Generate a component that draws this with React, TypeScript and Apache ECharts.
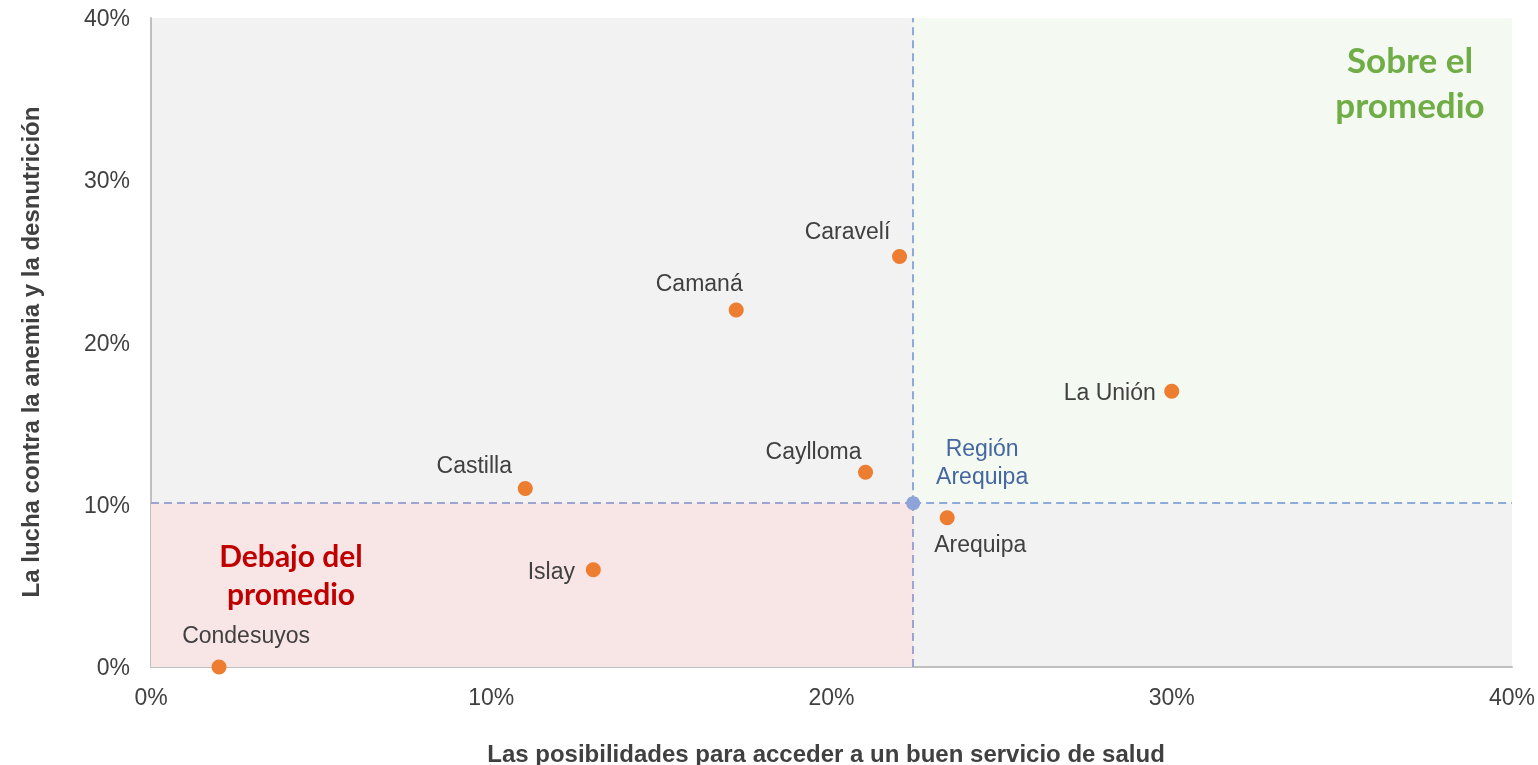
import React, { useEffect, useRef } from "react";
import * as echarts from "echarts";

const provinceNames = ["Condesuyos", "Castilla", "Islay", "Camaná", "Caravelí", "Caylloma", "La Unión", "Arequipa"];
const saludValues = [2, 11, 13, 17.2, 22, 21, 30, 23.4];
const anemiaValues = [0, 11, 6, 22, 25.3, 12, 17, 9.2];
const regionName = "Región\nArequipa";
const regionValue = [22.4, 10.1];
const axisTicks = [0, 10, 20, 30, 40];
const xTitle = "Las posibilidades para acceder a un buen servicio de salud";
const yTitle = "La lucha contra la anemia y la desnutrición";

const labelOffsets: Record<string, [number, number]> = {
  "Condesuyos": [27, -32],
  "Castilla": [-51, -24],
  "Islay": [-42, 1],
  "Camaná": [-37, -27],
  "Caravelí": [-52, -26],
  "Caylloma": [-52, -21],
  "La Unión": [-62, 1],
  "Arequipa": [33, 26],
};

const FONT = "'Liberation Sans', Arial, sans-serif";

export default function App() {
  const ref = useRef<HTMLDivElement>(null);
  useEffect(() => {
    document.body.style.margin = "0";
    document.body.style.overflow = "hidden";
    document.documentElement.style.overflow = "hidden";
    const chart = echarts.init(ref.current!, null, { renderer: "svg" });
    const [ax, ay] = regionValue;
    const axMin = axisTicks[0];
    const axMax = axisTicks[axisTicks.length - 1];
    const blueDash = { color: "#8eaadb", type: [8, 5], width: 2 };
    const purpleDash = { color: "#9ea3d1", type: [8, 5], width: 2 };
    const axisCommon = {
      type: "value",
      min: axMin,
      max: axMax,
      interval: axisTicks[1] - axisTicks[0],
      splitLine: { show: false },
      axisTick: { show: false },
      axisLine: { show: true, lineStyle: { color: "#bfbfbf", width: 2 } },
      axisLabel: {
        formatter: "{value}%",
        color: "#404040",
        fontSize: 23,
        fontFamily: FONT,
      },
    };
    chart.setOption({
      animation: false,
      grid: {
        left: 151,
        right: 25,
        top: 18,
        bottom: 98,
        show: true,
        backgroundColor: "#f2f2f2",
        borderWidth: 0,
      },
      xAxis: {
        ...axisCommon,
        axisLabel: { ...axisCommon.axisLabel, margin: 18 },
      },
      yAxis: {
        ...axisCommon,
        axisLabel: { ...axisCommon.axisLabel, margin: 21 },
      },
      graphic: [
        {
          type: "text",
          x: 826,
          y: 753,
          style: {
            text: xTitle,
            align: "center",
            verticalAlign: "middle",
            fill: "#404040",
            font: `bold 24px ${FONT}`,
          },
          silent: true,
        },
        {
          type: "text",
          x: 30,
          y: 352,
          rotation: Math.PI / 2,
          style: {
            text: yTitle,
            align: "center",
            verticalAlign: "middle",
            fill: "#404040",
            font: `bold 24px ${FONT}`,
          },
          silent: true,
        },
        {
          type: "text",
          x: 1410,
          y: 81,
          style: {
            text: "Sobre el\npromedio",
            align: "center",
            verticalAlign: "middle",
            fill: "#70ad47",
            font: "bold 35px Lato, 'Open Sans', sans-serif",
            lineHeight: 45,
          },
          silent: true,
          z: 10,
        },
        {
          type: "text",
          x: 291,
          y: 574,
          style: {
            text: "Debajo del\npromedio",
            align: "center",
            verticalAlign: "middle",
            fill: "#c00000",
            font: "bold 30px Lato, 'Open Sans', sans-serif",
            lineHeight: 38,
          },
          silent: true,
          z: 10,
        },
      ],
      series: [
        {
          type: "scatter",
          symbolSize: 15,
          itemStyle: { color: "#ed7d31", opacity: 1 },
          z: 5,
          data: provinceNames.map((n, i) => ({
            name: n,
            value: [saludValues[i], anemiaValues[i]],
            label: { offset: labelOffsets[n] },
          })),
          label: {
            show: true,
            position: "inside",
            formatter: "{b}",
            color: "#404040",
            fontSize: 23,
            fontFamily: FONT,
          },
          markArea: {
            silent: true,
            label: { show: false },
            data: [
              [
                { coord: [ax, ay], itemStyle: { color: "#f4f9f1" } },
                { coord: [axMax, axMax] },
              ],
              [
                { coord: [axMin, axMin], itemStyle: { color: "#f8e5e5" } },
                { coord: [ax, ay] },
              ],
            ],
          },
          markLine: {
            silent: true,
            symbol: "none",
            label: { show: false },
            lineStyle: blueDash,
            data: [
              [{ coord: [ax, ay], lineStyle: blueDash }, { coord: [ax, axMax] }],
              [{ coord: [ax, ay], lineStyle: blueDash }, { coord: [axMax, ay] }],
              [{ coord: [axMin, ay], lineStyle: purpleDash }, { coord: [ax, ay] }],
              [{ coord: [ax, axMin], lineStyle: purpleDash }, { coord: [ax, ay] }],
            ],
          },
        },
        {
          type: "scatter",
          symbolSize: 14,
          itemStyle: { color: "#8ea3d8", opacity: 1 },
          z: 6,
          data: [{ name: regionName, value: regionValue }],
          label: {
            show: true,
            position: "inside",
            offset: [69, -41],
            formatter: "{b}",
            color: "#44679f",
            fontSize: 23,
            lineHeight: 28,
            align: "center",
            fontFamily: FONT,
          },
        },
      ],
    });
    return () => chart.dispose();
  }, []);
  return (
    <div
      ref={ref}
      style={{ position: "fixed", left: 0, top: 0, width: 1538, height: 765 }}
    />
  );
}
